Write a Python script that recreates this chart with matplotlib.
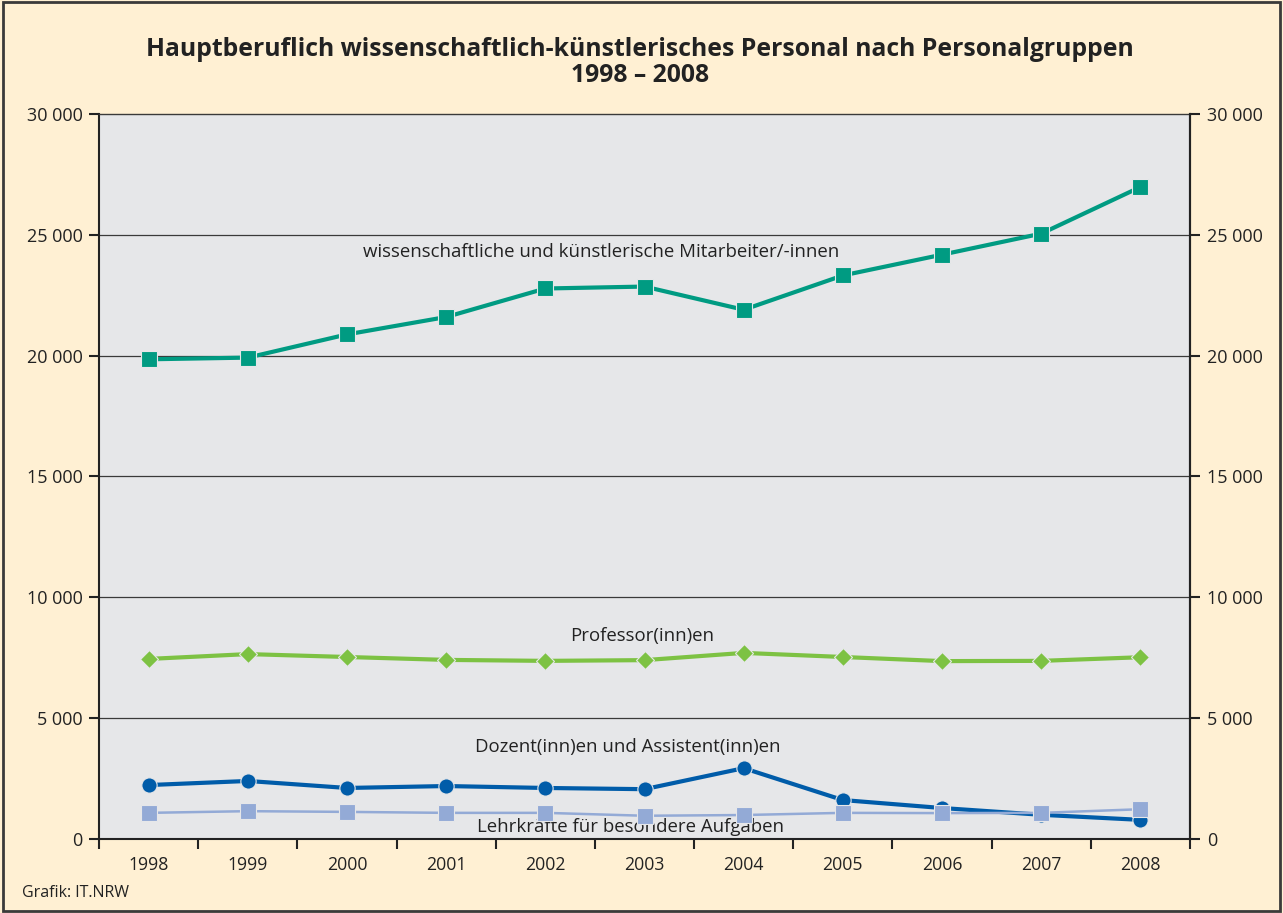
import numpy as np
import matplotlib.pyplot as plt
from matplotlib.patches import Rectangle

# -----------------------------
# DATA
# -----------------------------
years = [1998, 1999, 2000, 2001, 2002, 2003, 2004, 2005, 2006, 2007, 2008]
mitarbeiter = [19850, 19920, 20880, 21600, 22780, 22860, 21900, 23320, 24180, 25050, 26980]
professoren = [7450, 7650, 7530, 7410, 7370, 7400, 7700, 7530, 7360, 7370, 7520]
dozenten = [2230, 2400, 2110, 2190, 2110, 2060, 2930, 1610, 1280, 1000, 790]
lehrkraefte = [1080, 1150, 1120, 1080, 1080, 960, 990, 1080, 1070, 1080, 1230]
y_ticks = [0, 5000, 10000, 15000, 20000, 25000, 30000]
y_labels = ["0", "5 000", "10 000", "15 000", "20 000", "25 000", "30 000"]

plt.rcParams['font.family'] = ['Open Sans', 'DejaVu Sans']

fig = plt.figure(figsize=(12.83, 9.13), dpi=100)
fig.patch.set_facecolor("#FFF0D3")
fig.patches.append(Rectangle((0.002, 0.002), 0.996, 0.996, transform=fig.transFigure,
                             fill=False, edgecolor="#3a3a3a", linewidth=2))

ax = fig.add_axes([0.0772, 0.0811, 0.8503, 0.794])
ax.set_facecolor("#E6E7E9")

x = np.array(years)
ax.plot(x, mitarbeiter, color="#009B82", lw=3, marker="s", ms=12,
        mec="#E6E7E9", mew=0.8, zorder=3)
ax.plot(x, professoren, color="#7DC243", lw=3, marker="D", ms=9,
        mec="#E6E7E9", mew=0.8, zorder=3)
ax.plot(x, dozenten, color="#005CA9", lw=3, marker="o", ms=11,
        mec="#E6E7E9", mew=0.8, zorder=3)
ax.plot(x, lehrkraefte, color="#93AAD6", lw=1.8, marker="s", ms=11,
        mec="#E6E7E9", mew=0.8, zorder=4)

# series labels
lab_kw = dict(ha="center", va="center", fontsize=13.4, color="#222222")
ax.text(2002.56, 24300, "wissenschaftliche und künstlerische Mitarbeiter/-innen", **lab_kw)
ax.text(2002.98, 8400, "Professor(inn)en", **lab_kw)
ax.text(2002.83, 3800, "Dozent(inn)en und Assistent(inn)en", **lab_kw)
ax.text(2002.86, 480, "Lehrkräfte für besondere Aufgaben", **lab_kw)

ax.set_xlim(1997.5, 2008.5)
ax.set_ylim(0, 30000)

# grid
for v in y_ticks[1:-1]:
    ax.axhline(v, color="#3a3a3a", lw=0.9, zorder=1)

ax.set_yticks(y_ticks)
ax.set_yticklabels(y_labels)
ax.set_xticks(np.arange(1997.5, 2009, 1.0))
ax.set_xticklabels([])
ax.set_xticks(years, minor=True)
ax.set_xticklabels([str(y) for y in years], minor=True)
ax.tick_params(axis="x", which="major", length=7, width=1.5, color="#222222")
ax.tick_params(axis="x", which="minor", length=0, pad=12, labelsize=12.7, labelcolor="#222222")
ax.tick_params(axis="y", length=7, width=1.5, color="#222222", labelsize=13,
               labelcolor="#222222", pad=5)

for s in ax.spines.values():
    s.set_color("#222222")
    s.set_linewidth(1.5)
ax.spines["top"].set_linewidth(1.0)
ax.spines["top"].set_color("#3a3a3a")

ax2 = ax.twinx()
ax2.set_ylim(0, 30000)
ax2.set_yticks(y_ticks)
ax2.set_yticklabels(y_labels)
ax2.tick_params(axis="y", length=7, width=1.5, color="#222222", labelsize=13,
                labelcolor="#222222", pad=5)
for s in ax2.spines.values():
    s.set_visible(False)
ax2.spines["right"].set_visible(True)
ax2.spines["right"].set_color("#222222")
ax2.spines["right"].set_linewidth(1.5)

fig.text(0.4985, 0.9315, "Hauptberuflich wissenschaftlich-künstlerisches Personal nach Personalgruppen\n1998 – 2008",
         ha="center", va="center", fontsize=17.8, fontweight="bold", color="#222222",
         linespacing=1.1)
fig.text(0.017, 0.022, "Grafik: IT.NRW", ha="left", va="center", fontsize=11.5, color="#222222")

fig.savefig("out.png", dpi=100, facecolor=fig.get_facecolor())
